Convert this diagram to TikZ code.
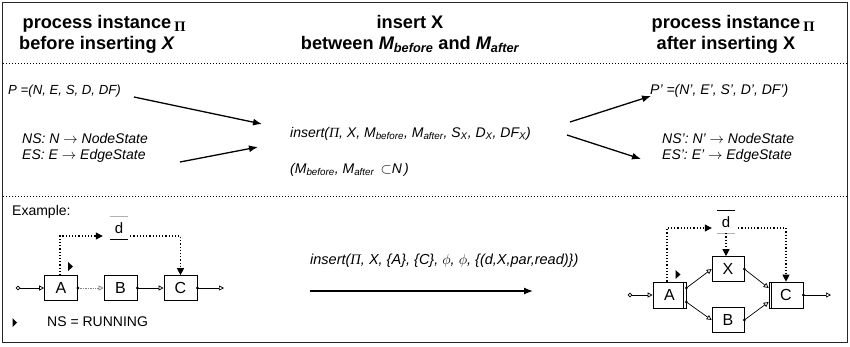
\documentclass[tikz,border=0pt]{standalone}
\usepackage{fontspec}
\setmainfont{Liberation Sans}
\newfontfamily\serifgr{Liberation Serif}
\usetikzlibrary{arrows.meta}
\newcommand\hdfont{\fontsize{18.2}{21}\selectfont\bfseries}
\newcommand\bdfont{\fontsize{14}{17}\selectfont}
\newcommand\gPi{{\serifgr\itshape Π}}
\newcommand\hPi{\rlap{\,\raisebox{-3pt}{\fontsize{14.5}{14.5}\selectfont\serifgr Π}}}
\begin{document}
\begin{tikzpicture}[x=1pt,y=-1pt,
  hd/.style={align=center,font=\hdfont,inner sep=0pt},
  bd/.style={anchor=west,font=\bdfont\itshape,inner sep=0pt},
  bigarrow/.style={line width=1.3pt,-{Latex[length=9pt,width=7pt]}},
  wfbox/.style={draw,line width=0.7pt,fill=white,minimum width=33pt,minimum height=25pt,inner sep=0pt,font=\fontsize{16}{16}\selectfont},
  flow/.style={line width=0.7pt,-{Triangle[open,length=5pt,width=5pt]}},
  datf/.style={line width=1.1pt,dash pattern=on 1.2pt off 2pt,-{Triangle[length=7pt,width=7pt]}},
  dnode/.style={minimum width=18pt,minimum height=22pt,inner sep=0pt,font=\fontsize{15}{15}\selectfont},
  startc/.style={circle,draw,line width=0.7pt,fill=white,inner sep=0pt,minimum size=3.6pt}]
\useasboundingbox (0,0) rectangle (850,346);
\draw[line width=1.6pt,black!85] (2.5,2.5) rectangle (847.5,342.5);
\draw[line width=0.8pt,dash pattern=on 1pt off 2pt] (3,63) -- (847,63);
\draw[line width=0.8pt,dash pattern=on 1pt off 2pt] (3,196) -- (847,196);
% headers
\node[hd] (h1) at (97,34) {process instance\hPi\\before inserting \textit{X}};
\node[hd] (h2) at (410,34) {insert X\\between \textit{M\textsubscript{before}} and \textit{M\textsubscript{after}}};
\node[hd] (h3) at (726,34) {process instance\hPi\\after inserting X};
% middle row
\node[bd,font=\fontsize{13.2}{16}\selectfont\itshape] (P) at (8,91) {P =(N, E, S, D, DF)};
\node[bd] (NS) at (22,138) {NS: N $\rightarrow$ NodeState};
\node[bd] (ES) at (22,156) {ES: E $\rightarrow$ EdgeState};
\node[bd] (ins) at (290,134) {insert(\gPi, X, M\textsubscript{before}, M\textsubscript{after}, S\textsubscript{X}, D\textsubscript{X}, DF\textsubscript{X})};
\node[bd] (mm) at (290,170) {(M\textsubscript{before}, M\textsubscript{after} \,$\subset$N\,)};
\node[bd] (Pp) at (650,91) {P' =(N', E', S', D', DF')};
\node[bd] (NSp) at (662,138) {NS': N' $\rightarrow$ NodeState};
\node[bd] (ESp) at (662,156) {ES': E' $\rightarrow$ EdgeState};
\coordinate (a1s) at (134,97); \coordinate (a1e) at (262,124);
\coordinate (a2s) at (180,162); \coordinate (a2e) at (258,147);
\coordinate (a3s) at (570,122); \coordinate (a3e) at (651,96);
\coordinate (a4s) at (567,135); \coordinate (a4e) at (641,159);
\draw[bigarrow] (a1s) -- (a1e);
\draw[bigarrow] (a2s) -- (a2e);
\draw[bigarrow] (a3s) -- (a3e);
\draw[bigarrow] (a4s) -- (a4e);
% bottom middle
\node[bd,font=\fontsize{14.5}{17}\selectfont\itshape] (ins2) at (310,261) {insert(\gPi, X, \{A\}, \{C\}, $\phi$, $\phi$, \{(d,X,par,read)\})};
\coordinate (b1s) at (310,291); \coordinate (b1e) at (533,291);
\draw[bigarrow] (b1s) -- (b1e);
% left example
\node[anchor=west,font=\bdfont,inner sep=0pt] (ex) at (12,212) {Example:};
\node[anchor=west,font=\bdfont,inner sep=0pt] (nsr) at (47,322) {NS = RUNNING};
\fill (12.5,318) -- (17,322.5) -- (12.5,327) -- cycle;
\node[wfbox] (AL) at (61,288) {A};
\node[wfbox] (BL) at (120.5,288) {B};
\node[wfbox] (CL) at (180.5,288) {C};
\node[startc] (sL) at (18,288) {};
\coordinate (eL) at (224,288);
\draw[flow] (sL) -- (AL);
\draw[flow,gray,densely dotted] (AL.east) -- (BL.west);
\draw[flow] (BL.east) -- (CL.west);
\draw[flow] (CL.east) -- (eL);
\fill (AL.east) circle (1.5pt);
\fill (BL.east) circle (1.5pt);
\fill (CL.east) circle (1.5pt);
\fill (68,262) -- (73,266.5) -- (68,271) -- cycle;
\node[dnode] (dL) at (119,228) {d};
\draw[gray!60,line width=1pt] (dL.north west) -- (dL.north east);
\draw[line width=1pt] (dL.south west) -- (dL.south east);
\draw[datf] ([xshift=-1pt]AL.north) |- ([xshift=-7pt,yshift=-8pt]dL.west);
\draw[datf] ([xshift=2pt,yshift=-8pt]dL.east) -| (CL.north);
% right example
\node[wfbox,minimum height=26pt] (Ar) at (669.5,295) {A};
\node[wfbox,minimum width=32pt] (Xr) at (728,269) {X};
\node[wfbox,minimum width=32pt] (Br) at (728,320) {B};
\node[wfbox,minimum height=26pt,minimum width=34pt] (Cr) at (786,295) {C};
\draw[line width=0.7pt] ([xshift=-3pt]Ar.north east) -- ([xshift=-3pt]Ar.south east);
\draw[line width=0.7pt] ([xshift=3pt]Cr.north west) -- ([xshift=3pt]Cr.south west);
\node[startc] (sR) at (630,295) {};
\coordinate (eR) at (831,295);
\draw[flow] (sR) -- (Ar);
\draw[flow] ([yshift=7pt]Ar.east) -- (Xr.west);
\draw[flow] ([yshift=-7pt]Ar.east) -- (Br.west);
\draw[flow] (Xr.east) -- ([yshift=7pt]Cr.west);
\draw[flow] (Br.east) -- ([yshift=-7pt]Cr.west);
\draw[flow] (Cr.east) -- (eR);
\fill ([yshift=7pt]Ar.east) circle (1.5pt);
\fill ([yshift=-7pt]Ar.east) circle (1.5pt);
\fill (Xr.east) circle (1.5pt);
\fill (Br.east) circle (1.5pt);
\fill (Cr.east) circle (1.5pt);
\fill (675.5,270) -- (680.5,274.5) -- (675.5,279) -- cycle;
\node[dnode] (dR) at (726,222) {d};
\draw[line width=1pt] (dR.north west) -- (dR.north east);
\draw[gray!60,line width=1pt] (dR.south west) -- (dR.south east);
\draw[datf] ([xshift=-2.5pt]Ar.north) |- ([xshift=-5pt,yshift=-6pt]dR.west);
\draw[datf] ([xshift=3pt,yshift=-6pt]dR.east) -| (Cr.north);
\draw[datf] (dR.south) -- (dR.south |- Xr.north);
\end{tikzpicture}
\end{document}
